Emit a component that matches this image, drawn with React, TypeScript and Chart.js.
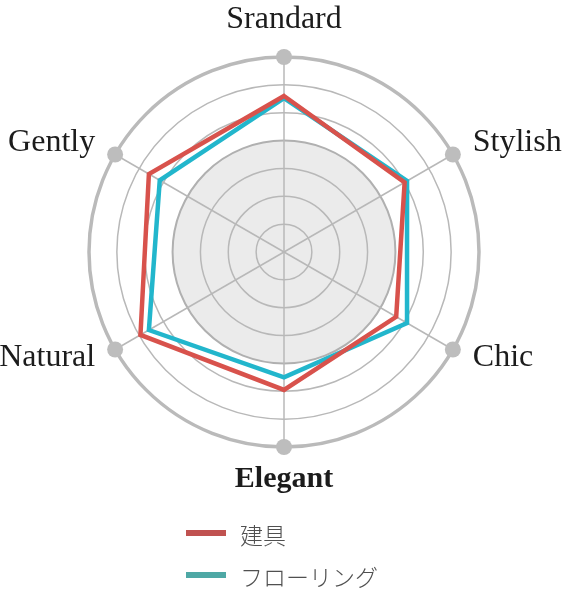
import React, { useEffect, useRef } from "react";
import { Chart, registerables } from "chart.js";

Chart.register(...registerables);

const categories = ["Srandard", "Stylish", "Chic", "Elegant", "Natural", "Gently"];
const seriesNames = ["建具", "フローリング"];
const tategu = [5.6, 5.0, 4.65, 4.95, 5.95, 5.6];
const flooring = [5.52, 5.1, 5.1, 4.5, 5.6, 5.15];
const lineColors = ["rgb(216, 82, 76)", "rgb(34, 182, 204)"];
const legendColors = ["rgb(192, 82, 80)", "rgb(78, 168, 165)"];
const scaleMax = 7;
const shadedUpTo = 4;
const boldLabelIndex = 3;

const decorPlugin = {
  id: "decor",
  beforeDatasetsDraw(chart: any) {
    const scale = chart.scales.r;
    const ctx = chart.ctx;
    const R = scale.drawingArea;
    ctx.save();
    ctx.fillStyle = "#bdbdbd";
    for (let i = 0; i < categories.length; i++) {
      const p = scale.getPointPosition(i, R);
      ctx.beginPath();
      ctx.arc(p.x, p.y, 8, 0, Math.PI * 2);
      ctx.fill();
    }
    ctx.restore();
  },
  beforeDraw(chart: any) {
    const scale = chart.scales.r;
    const ctx = chart.ctx;
    const r = scale.getDistanceFromCenterForValue(shadedUpTo);
    ctx.save();
    ctx.fillStyle = "#ebebeb";
    ctx.beginPath();
    ctx.arc(scale.xCenter, scale.yCenter, r, 0, Math.PI * 2);
    ctx.fill();
    ctx.restore();
  },
  afterDraw(chart: any) {
    const scale = chart.scales.r;
    const ctx = chart.ctx;
    const R = scale.drawingArea;
    ctx.save();
    ctx.fillStyle = "#1c1c1c";
    categories.forEach((label, i) => {
      ctx.font = i === boldLabelIndex ? "bold 30px 'Liberation Serif', serif" : "32px 'Liberation Serif', serif";
      ctx.textBaseline = "alphabetic";
      if (i === 0) {
        const p = scale.getPointPosition(i, R + 29);
        ctx.textAlign = "center";
        ctx.fillText(label, p.x, p.y);
      } else if (i === 3) {
        const p = scale.getPointPosition(i, R + 40);
        ctx.textAlign = "center";
        ctx.fillText(label, p.x, p.y);
      } else {
        const p = scale.getPointPosition(i, R + 23);
        const right = p.x > scale.xCenter;
        ctx.textAlign = right ? "left" : "right";
        const upper = p.y < scale.yCenter;
        ctx.fillText(label, p.x, p.y + (upper ? 8 : 5));
      }
    });
    // legend
    const lx = 186;
    const ys = [533, 575];
    seriesNames.forEach((name, i) => {
      ctx.fillStyle = legendColors[i];
      ctx.fillRect(lx, ys[i] - 3, 40, 6);
      ctx.fillStyle = "#505050";
      ctx.font = "300 23px 'Noto Sans CJK JP', sans-serif";
      ctx.textAlign = "left";
      ctx.textBaseline = "middle";
      ctx.fillText(name, 240, ys[i] + 2);
    });
    ctx.restore();
  },
};

export default function App() {
  const ref = useRef<HTMLCanvasElement>(null);
  useEffect(() => {
    if (!ref.current) return;
    const chart = new Chart(ref.current, {
      type: "radar",
      data: {
        labels: categories,
        datasets: [
          {
            label: seriesNames[0],
            data: tategu,
            borderColor: lineColors[0],
            backgroundColor: "transparent",
            borderWidth: 4.5,
            pointRadius: 0,
            fill: false,
            borderJoinStyle: "miter",
          },
          {
            label: seriesNames[1],
            data: flooring,
            borderColor: lineColors[1],
            backgroundColor: "transparent",
            borderWidth: 4.5,
            pointRadius: 0,
            fill: false,
            borderJoinStyle: "miter",
          },
        ],
      },
      options: {
        responsive: false,
        animation: false,
        layout: { padding: { left: 89, right: 89, top: 57, bottom: 145 } },
        plugins: { legend: { display: false }, tooltip: { enabled: false } },
        elements: { line: { tension: 0 } },
        scales: {
          r: {
            min: 0,
            max: scaleMax,
            ticks: { stepSize: 1, display: false },
            pointLabels: { display: false },
            angleLines: { color: "#b8b8b8", lineWidth: 1.5 },
            grid: {
              circular: true,
              color: (c: any) => (c.index === scaleMax ? "#bababa" : c.index === shadedUpTo ? "#b0b0b0" : "#b8b8b8"),
              lineWidth: (c: any) => (c.index === scaleMax ? 3.5 : c.index === shadedUpTo ? 2 : 1.5),
            },
          },
        },
      },
      plugins: [decorPlugin],
    });
    return () => chart.destroy();
  }, []);
  return (
    <div style={{ position: "absolute", left: 0, top: 0, width: 568, height: 592, background: "#fff" }}>
      <canvas ref={ref} width={568} height={592} style={{ display: "block" }} />
    </div>
  );
}
